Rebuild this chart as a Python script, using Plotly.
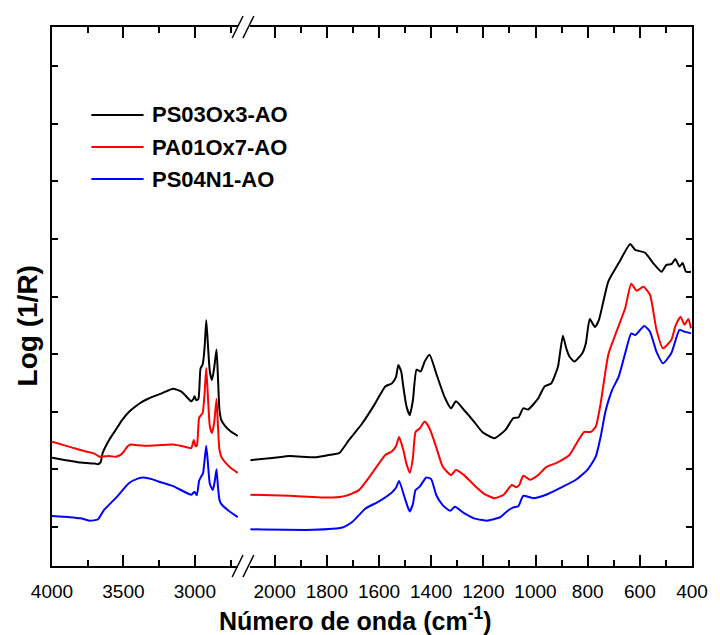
import plotly.graph_objects as go

# ---------------- data (wavenumber cm-1, Log(1/R) arbitrary units) ----------------
series_names = ["PS03Ox3-AO", "PA01Ox7-AO", "PS04N1-AO"]
series_colors = ["#000000", "#ff0000", "#0000ff"]

# high-wavenumber panel (4000 - 2700)
black_hi_wn = [4000, 3930, 3876, 3800, 3761, 3700, 3680, 3660, 3646, 3600, 3550, 3508, 3460, 3416, 3370, 3324,
               3232, 3152, 3094, 3050, 3025, 3010, 3002, 2990, 2975, 2960, 2945, 2932, 2920, 2908, 2895, 2880,
               2865, 2848, 2838, 2828, 2815, 2790, 2750, 2699]
black_hi_v = [2.20, 2.17, 2.15, 2.12, 2.11, 2.10, 2.09, 2.12, 2.28, 2.51, 2.70, 2.86, 3.00, 3.09, 3.17, 3.23,
              3.32, 3.40, 3.35, 3.24, 3.18, 3.22, 3.27, 3.20, 3.22, 3.75, 3.82, 4.10, 4.59, 4.15, 3.70, 3.55,
              3.75, 4.08, 3.60, 3.05, 2.86, 2.76, 2.66, 2.58]

red_hi_wn = [4000, 3876, 3761, 3700, 3669, 3600, 3554, 3520, 3497, 3470, 3450, 3400, 3324, 3152, 3050, 3025,
             3007, 2995, 2985, 2970, 2960, 2945, 2932, 2920, 2908, 2895, 2880, 2865, 2848, 2838, 2828, 2815,
             2790, 2750, 2699]
red_hi_v = [2.48, 2.39, 2.31, 2.27, 2.22, 2.23, 2.22, 2.25, 2.31, 2.40, 2.43, 2.42, 2.41, 2.43, 2.38, 2.37,
            2.51, 2.40, 2.42, 2.90, 2.93, 2.98, 3.30, 3.76, 3.25, 2.75, 2.63, 2.80, 3.22, 2.75, 2.35, 2.22,
            2.13, 2.03, 1.94]

blue_hi_wn = [4000, 3876, 3800, 3738, 3680, 3634, 3554, 3462, 3400, 3359, 3300, 3255, 3152, 3025, 3002, 2986,
              2970, 2957, 2943, 2932, 2920, 2908, 2895, 2874, 2860, 2848, 2838, 2828, 2818, 2772, 2699]
blue_hi_v = [1.19, 1.17, 1.15, 1.11, 1.13, 1.30, 1.50, 1.76, 1.84, 1.86, 1.83, 1.79, 1.71, 1.56, 1.61, 1.55,
             1.80, 1.87, 1.93, 2.15, 2.41, 2.10, 1.75, 1.64, 1.80, 2.00, 1.70, 1.48, 1.41, 1.30, 1.17]

# low-wavenumber panel (2100 - 400)
black_lo_wn = [2093, 2000, 1942, 1841, 1780, 1753, 1715, 1664, 1614, 1576, 1551, 1535, 1526, 1515, 1507, 1495,
               1482, 1470, 1456, 1440, 1425, 1406, 1381, 1349, 1324, 1305, 1274, 1236, 1204, 1158, 1116, 1085,
               1066, 1047, 1028, 990, 965, 940, 914, 905, 895, 882, 870, 851, 820, 807, 792, 772, 757, 721,
               681, 637, 618, 580, 549, 517, 498, 479, 464, 448, 436, 423, 404]
black_lo_v = [2.16, 2.20, 2.23, 2.21, 2.26, 2.28, 2.51, 2.80, 3.15, 3.44, 3.49, 3.60, 3.81, 3.70, 3.44, 3.10,
              2.94, 3.20, 3.73, 3.70, 3.87, 3.99, 3.67, 3.26, 3.06, 3.18, 3.03, 2.83, 2.65, 2.54, 2.68, 2.89,
              2.90, 3.06, 3.04, 3.23, 3.44, 3.49, 3.78, 4.05, 4.32, 4.10, 3.96, 3.87, 4.02, 4.19, 4.61, 4.47,
              4.59, 5.26, 5.58, 5.91, 5.81, 5.76, 5.58, 5.43, 5.55, 5.56, 5.65, 5.52, 5.58, 5.43, 5.43]

red_lo_wn = [2093, 1942, 1778, 1728, 1677, 1627, 1576, 1551, 1535, 1523, 1507, 1495, 1482, 1470, 1460, 1444,
             1425, 1406, 1381, 1356, 1324, 1305, 1274, 1236, 1198, 1158, 1122, 1091, 1074, 1062, 1047, 1021,
             990, 959, 921, 870, 839, 813, 788, 769, 750, 721, 687, 656, 633, 612, 586, 561, 536, 511, 479,
             464, 444, 429, 414, 404]
red_lo_v = [1.56, 1.54, 1.51, 1.54, 1.64, 1.93, 2.25, 2.31, 2.40, 2.56, 2.34, 2.10, 1.94, 2.20, 2.65, 2.71,
            2.83, 2.71, 2.39, 2.05, 1.90, 1.99, 1.90, 1.73, 1.58, 1.50, 1.56, 1.73, 1.69, 1.73, 1.89, 1.82,
            1.90, 2.04, 2.11, 2.25, 2.48, 2.65, 2.65, 2.74, 3.15, 3.99, 4.42, 4.80, 5.22, 5.10, 5.17, 5.03,
            4.42, 4.10, 4.25, 4.48, 4.65, 4.51, 4.61, 4.45]

blue_lo_wn = [2093, 1854, 1740, 1702, 1652, 1602, 1551, 1535, 1523, 1503, 1490, 1482, 1470, 1460, 1444, 1419,
              1400, 1381, 1356, 1327, 1309, 1274, 1236, 1204, 1186, 1135, 1110, 1085, 1066, 1047, 1009, 959,
              895, 845, 801, 769, 750, 732, 706, 681, 656, 633, 618, 583, 561, 536, 511, 479, 448, 429, 404]
blue_lo_v = [0.96, 0.95, 0.99, 1.09, 1.32, 1.44, 1.60, 1.68, 1.80, 1.53, 1.35, 1.27, 1.40, 1.64, 1.70, 1.86,
             1.83, 1.56, 1.38, 1.28, 1.35, 1.24, 1.15, 1.12, 1.11, 1.17, 1.27, 1.34, 1.36, 1.54, 1.50, 1.56,
             1.70, 1.82, 1.99, 2.22, 2.57, 3.00, 3.38, 3.61, 4.02, 4.36, 4.33, 4.49, 4.39, 4.04, 3.84, 4.02,
             4.42, 4.39, 4.36]

hi_ticks = [4000, 3500, 3000]
lo_ticks = [2000, 1800, 1600, 1400, 1200, 1000, 800, 600, 400]
y_ticks = [1, 2, 3, 4, 5, 6, 7, 8, 9]

hi_data = [(black_hi_wn, black_hi_v), (red_hi_wn, red_hi_v), (blue_hi_wn, blue_hi_v)]
lo_data = [(black_lo_wn, black_lo_v), (red_lo_wn, red_lo_v), (blue_lo_wn, blue_lo_v)]

# ---------------- figure ----------------
# page body has an 8px margin: the figure is sized so it fills the 720x635 window exactly
OFF = 8
W, H = 720 - OFF, 635 - OFF
PL, PR, PT, PB = 52, 702, 27, 566          # plot-area edges in window pixels
PW, PH = PR - PL, PB - PT

FONT = "Liberation Sans, Arial, sans-serif"


def px(xp):
    return (xp - PL) / PW


def py(yp):
    return (PB - yp) / PH


fig = go.Figure()
for name, color, (hx, hy), (lx, ly) in zip(series_names, series_colors, hi_data, lo_data):
    fig.add_trace(go.Scatter(x=hx, y=hy, mode="lines", name=name,
                             line=dict(color=color, width=2, shape="spline", smoothing=0.5),
                             xaxis="x", yaxis="y", showlegend=False))
    fig.add_trace(go.Scatter(x=lx, y=ly, mode="lines", name=name,
                             line=dict(color=color, width=2, shape="spline", smoothing=0.5),
                             xaxis="x2", yaxis="y2", showlegend=False))

axis_common = dict(showgrid=False, zeroline=False, showline=True, linewidth=2, linecolor="black",
                   ticks="inside", tickcolor="black", tickwidth=1.5)
xtick_font = dict(family=FONT, size=19, color="black")

left_end = px(241)
right_start = px(253)

fig.update_layout(
    width=W, height=H,
    margin=dict(l=PL - OFF, r=720 - PR, t=PT - OFF, b=635 - PB),
    plot_bgcolor="white", paper_bgcolor="white",
    showlegend=False,
    xaxis=dict(domain=[0, left_end], range=[4000, 2697], tickvals=hi_ticks, ticklen=11,
               minor=dict(dtick=250, tick0=0, ticklen=6, ticks="inside", tickcolor="black"),
               mirror="ticks", anchor="y", tickfont=xtick_font, ticklabelstandoff=7, **axis_common),
    xaxis2=dict(domain=[right_start, 1], range=[2095, 400], tickvals=lo_ticks, ticklen=11,
                minor=dict(dtick=100, tick0=0, ticklen=6, ticks="inside", tickcolor="black"),
                mirror="ticks", anchor="y2", tickfont=xtick_font, ticklabelstandoff=7, **axis_common),
    yaxis=dict(domain=[0, 1], range=[0.323, 9.677], tickvals=y_ticks, showticklabels=False, ticklen=6,
               anchor="x", side="left", **axis_common),
    yaxis2=dict(domain=[0, 1], range=[0.323, 9.677], tickvals=y_ticks, showticklabels=False, ticklen=6,
                anchor="x2", side="right", **axis_common),
)

# axis titles
fig.add_annotation(x=px(360), y=py(619), xref="paper", yref="paper", showarrow=False,
                   text="<b>Número de onda (cm<sup>-1</sup>)</b>", xanchor="center", yanchor="middle",
                   font=dict(family=FONT, size=25, color="black"))
fig.add_annotation(x=px(27), y=py(326), xref="paper", yref="paper", showarrow=False, textangle=-90,
                   text="<b>Log (1/R)</b>", xanchor="center", yanchor="middle",
                   font=dict(family=FONT, size=28, color="black"))

# legend (drawn manually to match the original line length)
legend_rows = [115, 147, 179]
for name, color, yr in zip(series_names, series_colors, legend_rows):
    fig.add_shape(type="line", xref="paper", yref="paper", x0=px(92), x1=px(145), y0=py(yr), y1=py(yr),
                  line=dict(color=color, width=2))
    fig.add_annotation(x=px(152), y=py(yr), xref="paper", yref="paper", showarrow=False,
                       text="<b>" + name + "</b>", xanchor="left", yanchor="middle",
                       font=dict(family=FONT, size=22, color="black"))

# axis break marks
for (ytop, ybot) in [(16, 38), (555, 577)]:
    fig.add_shape(type="rect", xref="paper", yref="paper", x0=px(241), x1=px(253),
                  y0=py(ybot - 8), y1=py(ytop + 8), line=dict(width=0), fillcolor="white", layer="above")
    for x0 in [235, 246]:
        fig.add_shape(type="line", xref="paper", yref="paper", x0=px(x0), y0=py(ybot), x1=px(x0 + 11),
                      y1=py(ytop), line=dict(color="black", width=1.5))

fig.write_html("out.html")
